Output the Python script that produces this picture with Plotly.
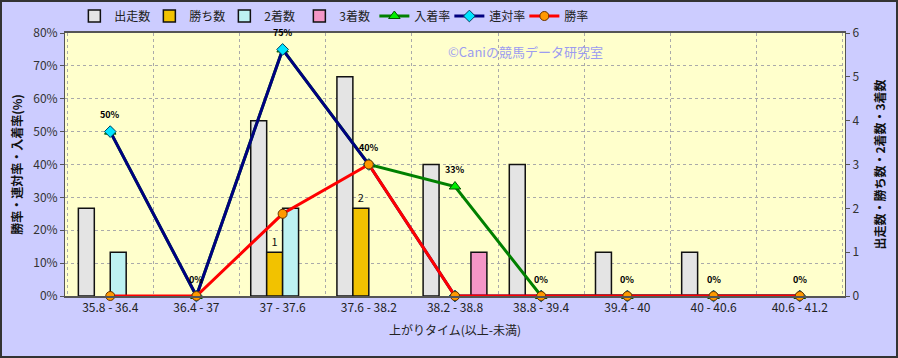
import plotly.graph_objects as go

categories = ["35.8 - 36.4", "36.4 - 37", "37 - 37.6", "37.6 - 38.2", "38.2 - 38.8",
              "38.8 - 39.4", "39.4 - 40", "40 - 40.6", "40.6 - 41.2"]
runs = [2, 0, 4, 5, 3, 3, 1, 1, 0]
wins = [0, 0, 1, 2, 0, 0, 0, 0, 0]
seconds = [1, 0, 2, 0, 0, 0, 0, 0, 0]
thirds = [0, 0, 0, 0, 1, 0, 0, 0, 0]
place_rate = [0.50, 0, 0.75, 0.40, 0.333, 0, 0, 0, 0]
quinella_rate = [0.50, 0, 0.75, 0.40, 0, 0, 0, 0, 0]
win_rate = [0, 0, 0.25, 0.40, 0, 0, 0, 0, 0]

FONT = "Noto Sans CJK JP"
fig = go.Figure()

bar_specs = [
    ("出走数", runs, "#E4E4E4"),
    ("勝ち数", wins, "#F2C200"),
    ("2着数", seconds, "#BDF2F2"),
    ("3着数", thirds, "#F496C6"),
]
for name, vals, color in bar_specs:
    fig.add_trace(go.Bar(
        name=name, x=categories, y=[v if v else None for v in vals], yaxis="y",
        marker=dict(color=color, line=dict(color="#111111", width=1.5)),
        text=[str(v) if (name == "勝ち数" and v) else "" for v in vals],
        textposition="outside", cliponaxis=False,
        textfont=dict(family=FONT, size=11, color="#111"),
    ))

fig.add_trace(go.Scatter(
    name="入着率", x=categories, y=place_rate, yaxis="y2", mode="lines+markers",
    line=dict(color="#008000", width=3),
    marker=dict(symbol="triangle-up", size=10, color="#00EE00", line=dict(color="#005500", width=1)),
    cliponaxis=False,
))
fig.add_trace(go.Scatter(
    name="連対率", x=categories, y=quinella_rate, yaxis="y2", mode="lines+markers",
    line=dict(color="#000080", width=3),
    marker=dict(symbol="diamond", size=9, color="#00E5FF", line=dict(color="#004060", width=1)),
    cliponaxis=False,
))
fig.add_trace(go.Scatter(
    name="勝率", x=categories, y=win_rate, yaxis="y2", mode="lines+markers",
    line=dict(color="#FF0000", width=3),
    marker=dict(symbol="circle", size=9, color="#FF9900", line=dict(color="#663300", width=1)),
    cliponaxis=False,
))

annotations = []
for c, v in zip(categories, place_rate):
    annotations.append(dict(
        x=c, y=v, xref="x", yref="y2", text=f"<b>{round(v*100)}%</b>", showarrow=False,
        yshift=17, font=dict(family=FONT, size=9, color="#000")))

W, H = 898, 358
L, R, T, B = 65, 53, 33, 62
pw, ph = W - L - R, H - T - B

annotations.append(dict(
    x=(525 - L) / pw, y=(H - B - 51) / ph, xref="paper", yref="paper", xanchor="center", yanchor="middle",
    text="©Caniの競馬データ研究室", showarrow=False,
    font=dict(family=FONT, size=13, color="#9C9CF0")))

fig.update_layout(
    width=W, height=H,
    margin=dict(l=L, r=R, t=T, b=B, pad=0, autoexpand=False),
    paper_bgcolor="#CCCCFF", plot_bgcolor="#FFFFCC",
    font=dict(family=FONT, size=12, color="#222"),
    barmode="group", bargap=0.26, bargroupgap=0,
    showlegend=True,
    legend=dict(orientation="h", x=0.012, xanchor="left", y=1 + (T - 16) / ph, yanchor="middle",
                bgcolor="rgba(0,0,0,0)", font=dict(family=FONT, size=12, color="#222"),
                traceorder="normal", entrywidth=30, itemwidth=30),
    xaxis=dict(type="category", tickson="boundaries", showgrid=True, gridcolor="#AAAAAA",
               griddash="dot", gridwidth=1, showline=True, linecolor="#555", linewidth=2,
               mirror=True, ticks="", tickfont=dict(size=12, color="#222"),
               title=dict(text="上がりタイム(以上-未満)", font=dict(size=12, color="#222"), standoff=12)),
    yaxis=dict(side="right", range=[0, 6], dtick=1, showgrid=False, zeroline=False,
               showline=True, linecolor="#555", linewidth=1, ticks="outside", ticklen=4,
               tickcolor="#555", tickfont=dict(size=12, color="#333"),
               title=dict(text="<b>出走数・勝ち数・2着数・3着数</b>", font=dict(size=12, color="#111"), standoff=18)),
    yaxis2=dict(overlaying="y", side="left", range=[0, 0.8], dtick=0.1, tickformat=".0%",
                showgrid=True, gridcolor="#AAAAAA", griddash="dot", zeroline=False,
                showline=True, linecolor="#555", linewidth=1, ticks="outside", ticklen=4,
                tickcolor="#555", tickfont=dict(size=12, color="#333"),
                title=dict(text="<b>勝率・連対率・入着率(%)</b>", font=dict(size=12, color="#111"), standoff=8)),
    annotations=annotations,
    shapes=[dict(type="rect", xref="paper", yref="paper", layer="above",
                 x0=-(L - 1) / pw, x1=1 + (R - 1) / pw, y0=-(B - 1) / ph, y1=1 + (T - 1) / ph,
                 line=dict(color="#333333", width=2), fillcolor="rgba(0,0,0,0)")],
)

fig.write_html("out.html")
